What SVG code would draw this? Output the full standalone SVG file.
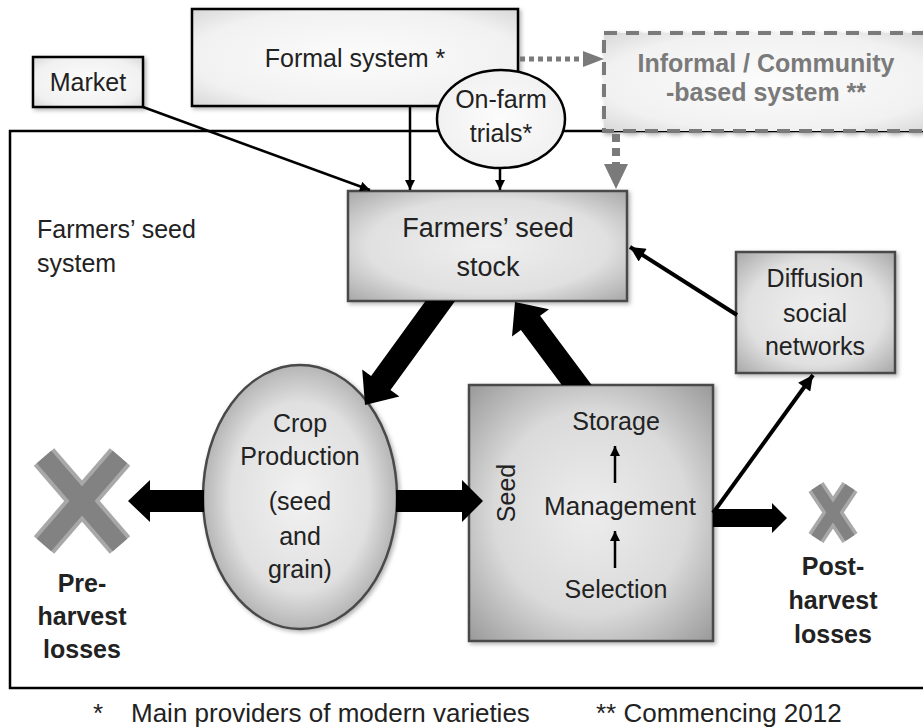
<svg xmlns="http://www.w3.org/2000/svg" width="923" height="728" viewBox="0 0 923 728">
<style>
text{font-family:"Liberation Sans",Arial,sans-serif;fill:#222;}
.t25{font-size:25px;}
.t26{font-size:26px;}
.t27{font-size:27px;}
.b25{font-size:25px;font-weight:bold;}
.inf{font-size:25px;font-weight:bold;fill:#7a7a7a;}
.mid{text-anchor:middle;}
.dark{stroke:#4a4a4a;stroke-width:2.5;}
.blk{stroke:#000;stroke-width:2.5;}
.thin{stroke:#000;stroke-width:2.5;fill:none;}
.med{stroke:#000;stroke-width:4;fill:none;}
.big{fill:#000;stroke:none;}
.xo{stroke:#a8a8a8;stroke-linecap:butt;fill:none;}
.xi{stroke:#828282;stroke-linecap:butt;fill:none;}
</style>
<defs>
<radialGradient id="gBox" cx="50%" cy="50%" r="72%">
<stop offset="0" stop-color="#efefef"/>
<stop offset="0.6" stop-color="#e0e0e0"/>
<stop offset="1" stop-color="#a4a4a4"/>
</radialGradient>
<radialGradient id="gSeed" cx="50%" cy="50%" r="72%">
<stop offset="0" stop-color="#ededed"/>
<stop offset="0.55" stop-color="#dadada"/>
<stop offset="1" stop-color="#969696"/>
</radialGradient>
<radialGradient id="gCrop" cx="50%" cy="50%" r="55%">
<stop offset="0" stop-color="#f2f2f2"/>
<stop offset="0.65" stop-color="#e0e0e0"/>
<stop offset="1" stop-color="#a6a6a6"/>
</radialGradient>
<radialGradient id="gLight" cx="50%" cy="50%" r="72%">
<stop offset="0" stop-color="#fcfcfc"/>
<stop offset="0.7" stop-color="#f1f1f1"/>
<stop offset="1" stop-color="#d6d6d6"/>
</radialGradient>
<filter id="sh" x="-10%" y="-10%" width="130%" height="130%">
<feDropShadow dx="2" dy="2" stdDeviation="2" flood-color="#000" flood-opacity="0.3"/>
</filter>
<marker id="ah" viewBox="0 0 10 10" refX="10" refY="5" markerWidth="12" markerHeight="10" markerUnits="userSpaceOnUse" orient="auto">
<path d="M0,0 L10,5 L0,10 z" fill="#000"/>
</marker>
<marker id="ahL" viewBox="0 0 10 10" refX="10" refY="5" markerWidth="18" markerHeight="15" markerUnits="userSpaceOnUse" orient="auto">
<path d="M0,0 L10,5 L0,10 z" fill="#000"/>
</marker>
</defs>

<rect x="0" y="0" width="923" height="728" fill="#fff"/>

<g id="frame">
<rect x="10" y="131" width="930" height="557" fill="#fff" stroke="#000" stroke-width="2.5"/>
<text class="t25" x="37" y="238">Farmers’ seed</text>
<text class="t25" x="37" y="272">system</text>
</g>

<g id="formal">
<rect x="192" y="9" width="326" height="97" fill="url(#gLight)" class="blk" filter="url(#sh)"/>
<text class="t25 mid" x="355" y="67">Formal system *</text>
</g>

<g id="market">
<rect x="33" y="57" width="110" height="50" fill="url(#gLight)" class="blk" filter="url(#sh)"/>
<text class="t25 mid" x="88" y="91">Market</text>
</g>

<g id="informal">
<rect x="604" y="33" width="330" height="98" fill="url(#gLight)" stroke="#7a7a7a" stroke-width="4" stroke-dasharray="13 9" filter="url(#sh)"/>
<text class="inf mid" x="766" y="72">Informal / Community</text>
<text class="inf mid" x="766" y="101">-based system  **</text>
</g>

<g id="onfarm">
<ellipse cx="501" cy="119" rx="64" ry="49" fill="url(#gLight)" class="blk"/>
<text class="t25 mid" x="501" y="108">On-farm</text>
<text class="t25 mid" x="501" y="142">trials*</text>
</g>

<g id="farmers">
<rect x="348" y="191" width="279" height="110" fill="url(#gBox)" class="dark" filter="url(#sh)"/>
<text class="t27 mid" x="488" y="237">Farmers’ seed</text>
<text class="t27 mid" x="488" y="276">stock</text>
</g>

<g id="diffusion">
<rect x="736" y="252" width="159" height="121" fill="url(#gBox)" class="dark" filter="url(#sh)"/>
<text class="t25 mid" x="815" y="287">Diffusion</text>
<text class="t25 mid" x="815" y="322">social</text>
<text class="t25 mid" x="815" y="355">networks</text>
</g>

<g id="crop">
<ellipse cx="300" cy="497" rx="97" ry="132" fill="url(#gCrop)" class="dark" filter="url(#sh)"/>
<text class="t25 mid" x="300" y="432">Crop</text>
<text class="t25 mid" x="300" y="465">Production</text>
<text class="t25 mid" x="300" y="510">(seed</text>
<text class="t25 mid" x="300" y="545">and</text>
<text class="t25 mid" x="300" y="578">grain)</text>
</g>

<g id="seed">
<rect x="469" y="385" width="244" height="256" fill="url(#gSeed)" class="dark" filter="url(#sh)"/>
<text class="t25 mid" x="0" y="0" transform="translate(515,493) rotate(-90)">Seed</text>
<text class="t25 mid" x="616" y="430">Storage</text>
<text class="t26 mid" x="620" y="515">Management</text>
<text class="t25 mid" x="616" y="598">Selection</text>
<line x1="615" y1="483" x2="615" y2="446" class="thin" marker-end="url(#ah)"/>
<line x1="615" y1="568" x2="615" y2="531" class="thin" marker-end="url(#ah)"/>
</g>

<g id="preharvest">
<line x1="44" y1="457" x2="120" y2="545" class="xo" stroke-width="27"/>
<line x1="120" y1="457" x2="44" y2="545" class="xo" stroke-width="27"/>
<line x1="44" y1="457" x2="120" y2="545" class="xi" stroke-width="19"/>
<line x1="120" y1="457" x2="44" y2="545" class="xi" stroke-width="19"/>
<text class="b25 mid" x="82" y="592">Pre-</text>
<text class="b25 mid" x="82" y="625">harvest</text>
<text class="b25 mid" x="82" y="658">losses</text>
</g>

<g id="postharvest">
<line x1="816" y1="487" x2="850" y2="538" class="xo" stroke-width="18"/>
<line x1="850" y1="487" x2="816" y2="538" class="xo" stroke-width="18"/>
<line x1="816" y1="487" x2="850" y2="538" class="xi" stroke-width="11"/>
<line x1="850" y1="487" x2="816" y2="538" class="xi" stroke-width="11"/>
<text class="b25 mid" x="833" y="575">Post-</text>
<text class="b25 mid" x="833" y="609">harvest</text>
<text class="b25 mid" x="833" y="643">losses</text>
</g>

<g id="connectors">
<line x1="143" y1="107" x2="370" y2="190" class="thin" marker-end="url(#ah)"/>
<line x1="410" y1="107" x2="410" y2="190" class="thin" marker-end="url(#ah)"/>
<line x1="500" y1="168" x2="500" y2="190" class="thin" marker-end="url(#ah)"/>
<line x1="520" y1="59" x2="584" y2="59" stroke="#7a7a7a" stroke-width="5" stroke-dasharray="5 4"/>
<path d="M583,51 L604,59 L583,67 z" fill="#7a7a7a"/>
<line x1="616" y1="134" x2="616" y2="164" stroke="#7a7a7a" stroke-width="8" stroke-dasharray="8 6"/>
<path d="M604,164 L628,164 L616,189 z" fill="#7a7a7a"/>
<line x1="737" y1="315" x2="630" y2="247" class="med" marker-end="url(#ahL)"/>
<line x1="713" y1="513" x2="813" y2="375" class="med" marker-end="url(#ahL)"/>
<polygon class="big" points="425.5,301 455.1,301 390.5,390.1 399.4,396.6 365,405 362.2,369.6 371.1,376.1"/>
<polygon class="big" points="561.8,385 591.7,385 540.1,315.7 549,309.2 515,302 512,336.6 520.9,330.1"/>
<polygon class="big" points="204,490 150,490 150,480 128,501 150,522 150,512 204,512"/>
<polygon class="big" points="396,490 462,490 462,480 483,501 462,522 462,512 396,512"/>
<polygon class="big" points="713,509 772,509 772,503 787,518 772,533 772,527 713,527"/>
</g>

<g id="footnote">
<text class="t26" x="93" y="722">*</text>
<text class="t26" x="131" y="722">Main providers of modern varieties</text>
<text class="t26" x="596" y="722">** Commencing 2012</text>
</g>
</svg>
